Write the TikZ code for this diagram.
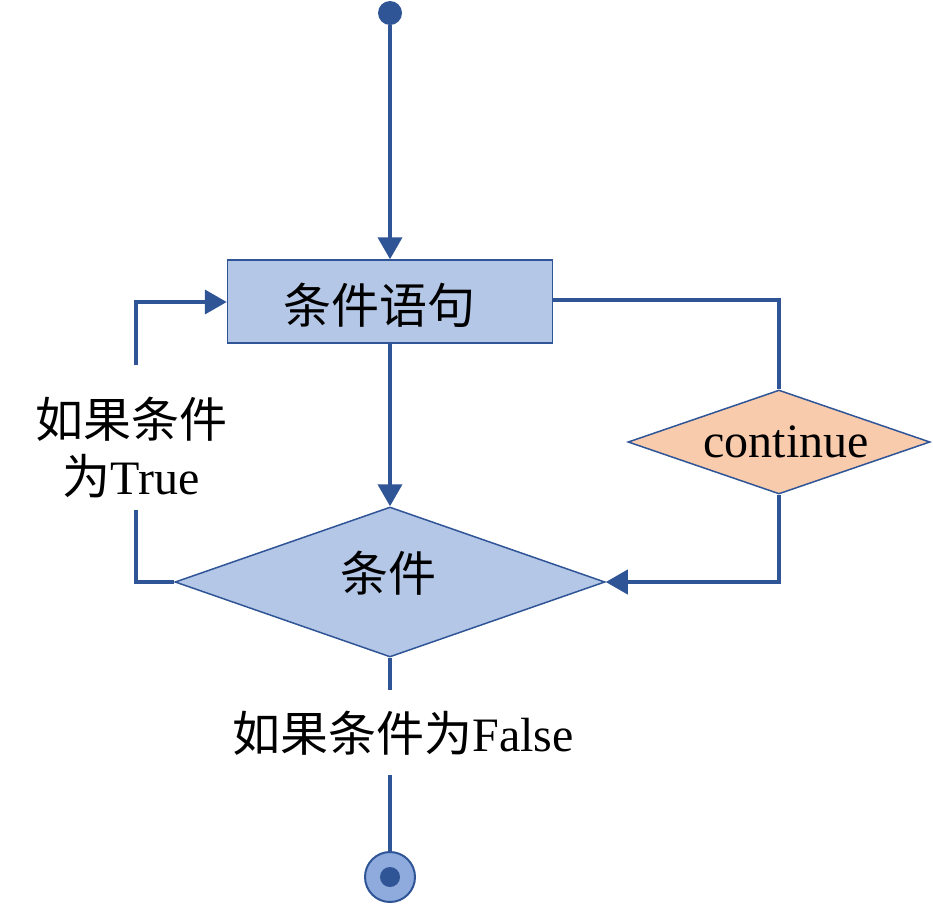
\documentclass[tikz,border=0pt]{standalone}
\usepackage{fontspec}
\setmainfont{Liberation Serif}
\newfontfamily\cjk{Noto Sans CJK SC}
\usetikzlibrary{arrows.meta,shapes.geometric}
\definecolor{lineblue}{RGB}{47,85,151}
\definecolor{boxblue}{RGB}{180,199,231}
\definecolor{endblue}{RGB}{143,170,220}
\definecolor{peach}{RGB}{248,203,173}
\tikzset{
	flow/.style={draw=lineblue, line width=4pt},
	tip/.style={-{Triangle[length=22pt,width=24pt]}},
	label/.style={font=\fontsize{48}{57}\selectfont, align=center, inner sep=0pt},
}

\begin{document}
\begin{tikzpicture}[x=1pt, y=-1pt]
		%%%%% START %%%%%
		\useasboundingbox (0, 0) rectangle (933, 903);
		
		\node[circle, fill=lineblue, minimum size=24pt, inner sep=0pt] (start) at (390, 13) {};
		
		\node[draw=lineblue, line width=1.5pt, fill=boxblue, minimum width=325pt, minimum height=83pt] (stmt) at (390, 301.5) {};
		\node[label] at (379, 305) {\cjk 条件语句};
		
		\node[diamond, draw=lineblue, line width=1.5pt, fill=boxblue, minimum width=430pt, minimum height=150pt, inner sep=0pt] (cond) at (390, 582) {};
		\node[label] at (388, 573) {\cjk 条件};
		
		\node[diamond, draw=lineblue, line width=1.5pt, fill=peach, minimum width=302pt, minimum height=104pt, inner sep=0pt] (cont) at (779, 442) {};
		\node[label] at (786, 442) {continue};
		
		\node[circle, draw=lineblue, line width=2pt, fill=endblue, minimum size=50pt, inner sep=0pt] (stop) at (390, 877) {};
		\node[circle, fill=lineblue, minimum size=20pt, inner sep=0pt] (stopdot) at (390, 877) {};
		
		\node[label] (truelbl) at (131, 448) {{\cjk 如果条件}\\{\cjk 为}True};
		\node[label] (falselbl) at (403, 733) {{\cjk 如果条件为}False};
		
		\coordinate (lbot) at (136, 510);
		\coordinate (ltop) at (136, 365);
		\coordinate (fbtop) at (390, 690);
		\coordinate (fbbot) at (390, 775);
		
		\draw[flow, tip] (start) -- (stmt.north);
		\draw[flow, tip] (stmt.south) -- (cond.north);
		\draw[flow] (stmt.east |- 0, 300) -| (cont.north);
		\draw[flow, tip] (cont.south) |- (cond.east);
		\draw[flow] (cond.west) -| (lbot);
		\draw[flow, tip] (ltop) |- (stmt.west |- 0, 302);
		\draw[flow] (cond.south) -- (fbtop);
		\draw[flow] (fbbot) -- (stop.north);
		%%%%% END %%%%%
	\end{tikzpicture}
\end{document}
